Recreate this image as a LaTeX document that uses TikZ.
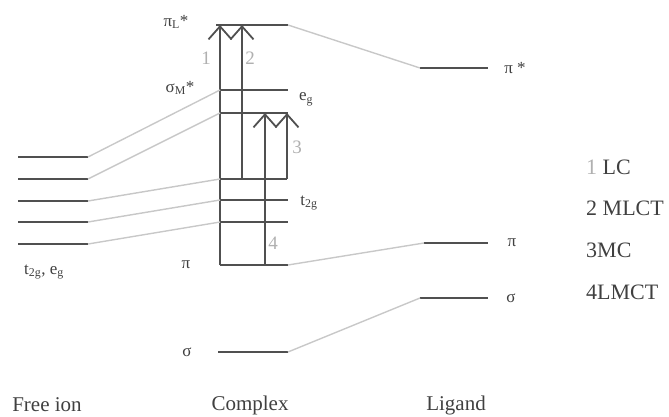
\documentclass[tikz,border=0pt]{standalone}
\usepackage{fontspec}
\setmainfont{Liberation Serif}
\usetikzlibrary{arrows.meta}
\definecolor{lvl}{HTML}{505050}
\definecolor{conn}{HTML}{C8C8C8}
\definecolor{txt}{HTML}{404040}
\definecolor{num}{HTML}{B0B0B0}
\tikzset{
  level/.style={draw=lvl, line width=1.8pt},
  connector/.style={draw=conn, line width=1.4pt},
  trans/.style={draw=lvl, line width=1.8pt, -{Straight Barb[length=13pt,width=23pt,line width=1.8pt]}},
  lab/.style={text=txt, inner sep=0pt, font=\fontsize{17}{19}\selectfont},
  biglab/.style={text=txt, inner sep=0pt, font=\fontsize{21}{24}\selectfont},
  leglab/.style={text=txt, inner sep=0pt, font=\fontsize{22}{25}\selectfont},
  numlab/.style={text=num, inner sep=0pt, font=\fontsize{19}{21}\selectfont},
}
\begin{document}
\begin{tikzpicture}[x=1pt,y=-1pt]
\useasboundingbox (0,0) rectangle (669,417);
% free ion levels
\foreach \i/\y in {1/157,2/179,3/201,4/222,5/244}{
  \coordinate (f\i L) at (18,\y);
  \coordinate (f\i R) at (88,\y);
  \draw[level] (f\i L) -- (f\i R);
}
% complex levels
\coordinate (piLl) at (216,25);   \coordinate (piLr) at (288,25);
\coordinate (eg1l) at (220,90);   \coordinate (eg1r) at (288,90);
\coordinate (eg2l) at (220,113);  \coordinate (eg2r) at (288,113);
\coordinate (t0l) at (220,179);   \coordinate (t0r) at (287,179);
\coordinate (t1l) at (220,200);   \coordinate (t1r) at (288,200);
\coordinate (t2l) at (220,222);   \coordinate (t2r) at (288,222);
\coordinate (cpil) at (220,265);  \coordinate (cpir) at (288,265);
\coordinate (csl) at (218,352);   \coordinate (csr) at (288,352);
\foreach \a/\b in {piLl/piLr,eg1l/eg1r,eg2l/eg2r,t0l/t0r,t1l/t1r,t2l/t2r,cpil/cpir,csl/csr}
  \draw[level] (\a) -- (\b);
% ligand levels
\coordinate (lps1) at (420,68);  \coordinate (lps2) at (488,68);
\coordinate (lp1) at (424,243);  \coordinate (lp2) at (488,243);
\coordinate (ls1) at (420,298);  \coordinate (ls2) at (488,298);
\draw[level] (lps1) -- (lps2);
\draw[level] (lp1) -- (lp2);
\draw[level] (ls1) -- (ls2);
% transitions
\coordinate (a1b) at (220,265); \coordinate (a1t) at (220,25);
\coordinate (a2b) at (242,179); \coordinate (a2t) at (242,25);
\coordinate (a3b) at (287,179); \coordinate (a3t) at (287,113);
\coordinate (a4b) at (265,265); \coordinate (a4t) at (265,113);
\draw[trans] (a1b) -- (a1t);
\draw[trans] (a2b) -- (a2t);
\draw[trans] (a3b) -- (a3t);
\draw[trans] (a4b) -- (a4t);
% connectors
\draw[connector] (f1R) -- (eg1l);
\draw[connector] (f2R) -- (eg2l);
\draw[connector] (f3R) -- (t0l);
\draw[connector] (f4R) -- (t1l);
\draw[connector] (f5R) -- (t2l);
\draw[connector] (piLr) -- (lps1);
\draw[connector] (cpir) -- (lp1);
\draw[connector] (csr) -- (ls1);
% labels
\node[lab] (lpiL) at (176,22) {π\textsubscript{L}*};
\node[lab] (lsigM) at (180,88) {σ\textsubscript{M}*};
\node[lab] (leg) at (306,99) {e\textsubscript{g}};
\node[lab] (lt2g) at (309,203) {t\textsubscript{2g}};
\node[lab] (lcpi) at (186,265) {π};
\node[lab] (lcs) at (187,352) {σ};
\node[lab] (lfi) at (44,272) {t\textsubscript{2g}, e\textsubscript{g}};
\node[lab] (llps) at (515,68) {π *};
\node[lab] (llp) at (512,243) {π};
\node[lab] (lls) at (511,298) {σ};
\node[numlab] (n1) at (206,58) {1};
\node[numlab] (n2) at (250,58) {2};
\node[numlab] (n3) at (297,147) {3};
\node[numlab] (n4) at (273,243) {4};
% legend
\node[leglab, anchor=west] (g1) at (586,167) {\textcolor{num}{1} LC};
\node[leglab, anchor=west] (g2) at (586,208) {2 MLCT};
\node[leglab, anchor=west] (g3) at (586,250) {3MC};
\node[leglab, anchor=west] (g4) at (586,292) {4LMCT};
% bottom
\node[biglab] (bfree) at (47,405) {Free ion};
\node[biglab] (bcomp) at (250,405) {Complex};
\node[biglab] (blig) at (456,405) {Ligand};
\end{tikzpicture}
\end{document}
